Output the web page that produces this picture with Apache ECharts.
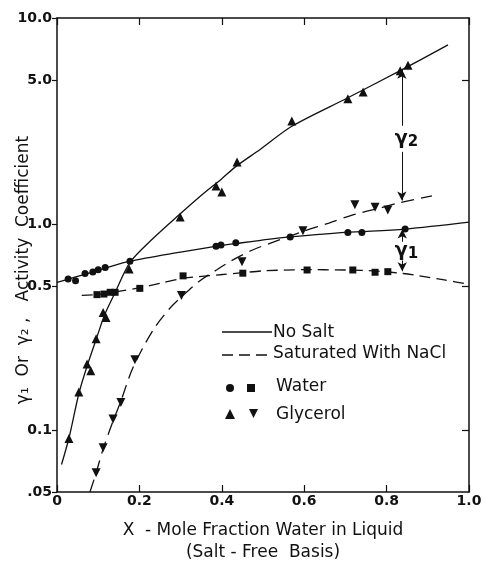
<!DOCTYPE html>
<html>
<head>
<meta charset="utf-8">
<script src="https://cdn.jsdelivr.net/npm/echarts@6/dist/echarts.min.js"></script>
<style>
  html, body { margin: 0; padding: 0; background: #fff; }
  #chart { width: 485px; height: 566px; }
</style>
</head>
<body>
<div id="chart"></div>
<script>
// measured points
const waterX = [0.027, 0.045, 0.068, 0.087, 0.100, 0.117, 0.177, 0.386, 0.398, 0.434, 0.566, 0.706, 0.740, 0.845];
const waterY = [0.54, 0.53, 0.575, 0.585, 0.60, 0.615, 0.66, 0.78, 0.79, 0.81, 0.865, 0.91, 0.91, 0.945];
const waterSaltX = [0.097, 0.114, 0.129, 0.141, 0.201, 0.306, 0.451, 0.607, 0.718, 0.772, 0.803];
const waterSaltY = [0.454, 0.457, 0.466, 0.466, 0.487, 0.56, 0.577, 0.598, 0.598, 0.583, 0.587];
const glycX = [0.029, 0.053, 0.073, 0.082, 0.095, 0.112, 0.119, 0.175, 0.299, 0.386, 0.400, 0.437, 0.570, 0.706, 0.743, 0.833, 0.852];
const glycY = [0.091, 0.153, 0.209, 0.194, 0.277, 0.372, 0.352, 0.605, 1.08, 1.53, 1.43, 2.0, 3.16, 4.05, 4.37, 5.54, 5.9];
const glycSaltX = [0.095, 0.112, 0.136, 0.155, 0.189, 0.302, 0.449, 0.597, 0.723, 0.772, 0.803];
const glycSaltY = [0.062, 0.082, 0.113, 0.136, 0.219, 0.45, 0.656, 0.928, 1.24, 1.205, 1.17];

// curves
const waterCurveX = [0, 0.027, 0.068, 0.117, 0.177, 0.30, 0.388, 0.437, 0.517, 0.566, 0.70, 0.845, 1.0];
const waterCurveY = [0.52, 0.54, 0.57, 0.61, 0.66, 0.73, 0.78, 0.805, 0.845, 0.865, 0.91, 0.945, 1.02];
const waterSaltCurveX = [0.06, 0.10, 0.153, 0.20, 0.25, 0.306, 0.396, 0.45, 0.50, 0.60, 0.70, 0.78, 0.84, 0.88, 0.94, 1.0];
const waterSaltCurveY = [0.45, 0.455, 0.472, 0.49, 0.515, 0.545, 0.567, 0.58, 0.592, 0.60, 0.598, 0.59, 0.575, 0.56, 0.535, 0.51];
const glycCurveX = [0.011, 0.03, 0.053, 0.075, 0.095, 0.115, 0.14, 0.177, 0.233, 0.299, 0.347, 0.40, 0.437, 0.493, 0.57, 0.706, 0.833, 0.949];
const glycCurveY = [0.068, 0.093, 0.15, 0.21, 0.275, 0.36, 0.46, 0.65, 0.85, 1.12, 1.36, 1.66, 1.92, 2.3, 2.98, 4.1, 5.55, 7.4];
const glycSaltCurveX = [0.08, 0.095, 0.112, 0.135, 0.155, 0.184, 0.233, 0.274, 0.306, 0.347, 0.388, 0.427, 0.476, 0.52, 0.597, 0.66, 0.72, 0.78, 0.833, 0.91];
const glycSaltCurveY = [0.05, 0.062, 0.081, 0.109, 0.138, 0.20, 0.305, 0.39, 0.45, 0.53, 0.60, 0.67, 0.75, 0.81, 0.92, 1.01, 1.11, 1.19, 1.27, 1.37];

const xTicks = [0, 0.2, 0.4, 0.6, 0.8, 1.0];
const xTickLabels = ['0', '0.2', '0.4', '0.6', '0.8', '1.0'];
const yTicks = [0.05, 0.1, 0.5, 1, 5, 10];
const yTickLabels = ['.05', '0.1', '0.5', '1.0', '5.0', '10.0'];

const zip = (xs, ys) => xs.map((x, i) => [x, ys[i]]);
const pick = (ticks, labels) => v => {
	const i = ticks.findIndex(t => Math.abs(t - v) < 1e-6 * Math.max(1, t));
	return i < 0 ? '' : labels[i];
};

const INK = '#111';
const FONT = 'DejaVu Sans';

const chart = echarts.init(document.getElementById('chart'));

const axisLine = { onZero: false, lineStyle: { color: INK, width: 1.5 } };
const tickStyle = { color: INK, width: 1.2 };

function curve(xs, ys, dashed) {
	return {
		type: 'line', smooth: 0.3, symbol: 'none', data: zip(xs, ys),
		lineStyle: { color: INK, width: 1.3, type: dashed || 'solid' }
	};
}

function points(symbol, size, xs, ys, rotate) {
	return {
		type: 'scatter', symbol, symbolSize: size, symbolRotate: rotate || 0,
		itemStyle: { color: INK, opacity: 1 }, data: zip(xs, ys)
	};
}

const glycLine = curve(glycCurveX, glycCurveY);
glycLine.markLine = {
	silent: true, symbol: ['none', 'none'], symbolSize: [7, 9],
	lineStyle: { color: INK, width: 1, type: 'solid' }, label: { show: false },
	data: [
		[{ coord: [0.837, 5.6], symbol: 'arrow' }, { coord: [0.837, 3.0], symbol: 'none' }],
		[{ coord: [0.837, 2.24], symbol: 'none' }, { coord: [0.837, 1.30], symbol: 'arrow' }],
		[{ coord: [0.838, 0.94], symbol: 'arrow' }, { coord: [0.838, 0.82], symbol: 'none' }],
		[{ coord: [0.838, 0.665], symbol: 'none' }, { coord: [0.838, 0.59], symbol: 'arrow' }]
	]
};
glycLine.markPoint = {
	silent: true, symbol: 'rect', symbolSize: 1, itemStyle: { color: 'rgba(0,0,0,0)' },
	label: {
		show: true, position: 'inside', color: INK,
		formatter: p => '{g|γ}{s|' + p.name + '}',
		rich: {
			g: { fontSize: 19, fontWeight: 'bold', fontFamily: FONT, color: INK },
			s: { fontSize: 15, fontWeight: 'bold', fontFamily: FONT, color: INK, padding: [6, 0, 0, 0] }
		}
	},
	data: [
		{ name: '2', coord: [0.848, 2.59] },
		{ name: '1', coord: [0.848, 0.74] }
	]
};

const option = {
	animation: false,
	backgroundColor: '#fff',
	textStyle: { fontFamily: FONT, color: INK },
	grid: { left: 57, right: 16, top: 18, bottom: 74, containLabel: false, outerBoundsMode: 'none' },
	xAxis: [
		{
			type: 'value', min: 0, max: 1, interval: 0.2, position: 'bottom',
			axisLine, splitLine: { show: false },
			axisTick: { inside: true, length: 7, lineStyle: tickStyle },
			axisLabel: {
				formatter: pick(xTicks, xTickLabels), margin: 2,
				fontSize: 14, fontWeight: 'bold', color: INK, fontFamily: FONT
			},
			name: 'X  - Mole Fraction Water in Liquid\n(Salt - Free  Basis)',
			nameLocation: 'middle', nameGap: 28,
			nameTextStyle: { fontSize: 17, lineHeight: 22, color: INK, fontFamily: FONT, align: 'center' }
		},
		{
			type: 'value', min: 0, max: 1, interval: 0.2, position: 'top',
			axisLine, splitLine: { show: false },
			axisTick: { inside: true, length: 7, lineStyle: tickStyle },
			axisLabel: { show: false }
		}
	],
	yAxis: [
		{
			type: 'log', logBase: 10, min: 0.05, max: 10, position: 'left',
			axisLine, splitLine: { show: false }, minorTick: { show: false },
			axisTick: { customValues: yTicks, length: 5, lineStyle: tickStyle },
			axisLabel: {
				customValues: yTicks, formatter: pick(yTicks, yTickLabels), margin: 5,
				fontSize: 14, fontWeight: 'bold', color: INK, fontFamily: FONT
			}
		},
		{
			type: 'log', logBase: 10, min: 0.05, max: 10, position: 'right',
			axisLine, splitLine: { show: false }, minorTick: { show: false },
			axisTick: { customValues: [0.1, 0.5, 5], inside: true, length: 7, lineStyle: tickStyle },
			axisLabel: { show: false }
		}
	],
	graphic: [
		{
			type: 'text', x: 24, y: 270, rotation: Math.PI / 2,
			style: {
				text: 'γ₁  Or  γ₂ ,   Activity  Coefficient',
				font: '17px "DejaVu Sans"', fill: INK, align: 'center', verticalAlign: 'middle'
			}
		},
		// legend
		{ type: 'line', shape: { x1: 222, y1: 332, x2: 272, y2: 332 }, style: { stroke: INK, lineWidth: 1.3 } },
		{ type: 'line', shape: { x1: 222, y1: 355, x2: 268, y2: 355 }, style: { stroke: INK, lineWidth: 1.3, lineDash: [11, 6] } },
		{ type: 'circle', shape: { cx: 230, cy: 388, r: 4 }, style: { fill: INK } },
		{ type: 'rect', shape: { x: 247, y: 384, width: 8, height: 8 }, style: { fill: INK } },
		{ type: 'polygon', shape: { points: [[230, 409], [235, 419], [225, 419]] }, style: { fill: INK } },
		{ type: 'polygon', shape: { points: [[249, 409], [258, 409], [253.5, 418]] }, style: { fill: INK } },
		{ type: 'text', x: 273, y: 333, style: { text: 'No Salt', font: '17px "DejaVu Sans"', fill: INK, verticalAlign: 'middle' } },
		{ type: 'text', x: 273, y: 354, style: { text: 'Saturated With NaCl', font: '17px "DejaVu Sans"', fill: INK, verticalAlign: 'middle' } },
		{ type: 'text', x: 276, y: 387, style: { text: 'Water', font: '17px "DejaVu Sans"', fill: INK, verticalAlign: 'middle' } },
		{ type: 'text', x: 276, y: 415, style: { text: 'Glycerol', font: '17px "DejaVu Sans"', fill: INK, verticalAlign: 'middle' } }
	],
	series: [
		curve(waterCurveX, waterCurveY),
		curve(waterSaltCurveX, waterSaltCurveY, [11, 6]),
		glycLine,
		curve(glycSaltCurveX, glycSaltCurveY, [13, 7]),
		points('circle', 7, waterX, waterY),
		points('rect', 7, waterSaltX, waterSaltY),
		points('triangle', 9, glycX, glycY),
		points('triangle', 9, glycSaltX, glycSaltY, 180)
	]
};

chart.setOption(option);
</script>
</body>
</html>
